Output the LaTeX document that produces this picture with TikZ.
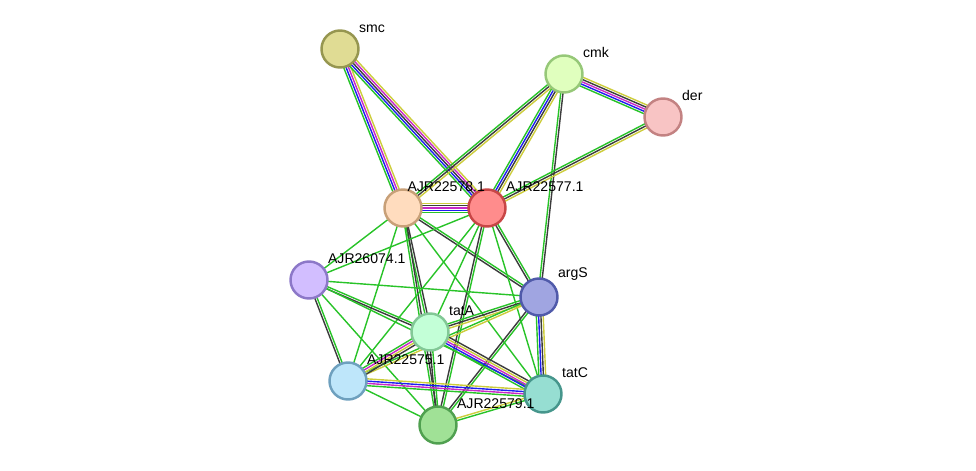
\documentclass[tikz,border=0pt]{standalone}
\usepackage{fontspec}
\setsansfont{Liberation Sans}
\usetikzlibrary{calc,backgrounds}
\definecolor{lgreen}{RGB}{40,195,40}
\definecolor{lblue}{RGB}{30,30,240}
\definecolor{lmag}{RGB}{200,40,200}
\definecolor{lyel}{RGB}{205,205,60}
\definecolor{lblk}{RGB}{60,60,60}
% one STRING link: node, node, number of lines, colours
\newcommand\strlink[4]{%
  \foreach \c [count=\i] in {#4} {%
    \pgfmathsetmacro\off{(\i-(#3+1)/2)*1.3}
    \draw[\c,line width=.8pt] ($(#1)!\off pt!90:(#2)$) -- ($(#2)!\off pt!-90:(#1)$);
  }}
\begin{document}
\begin{tikzpicture}
  [ prot/.style={circle,line width=1.4pt,minimum size=.74cm,inner sep=0pt},
    lbl/.style={font=\sffamily\footnotesize,inner sep=1pt,anchor=south west}
  ]
  \useasboundingbox (0,0) rectangle (19.52,-9.42);
  \definecolor{fsmc}{RGB}{224,220,148}\definecolor{dsmc}{RGB}{150,150,80}
  \definecolor{fcmk}{RGB}{224,255,190}\definecolor{dcmk}{RGB}{150,200,120}
  \definecolor{fder}{RGB}{248,196,196}\definecolor{dder}{RGB}{195,130,130}
  \definecolor{feight}{RGB}{255,220,190}\definecolor{deight}{RGB}{200,160,120}
  \definecolor{fseven}{RGB}{255,140,140}\definecolor{dseven}{RGB}{200,70,70}
  \definecolor{fsix}{RGB}{210,190,255}\definecolor{dsix}{RGB}{140,120,200}
  \definecolor{fargs}{RGB}{160,165,225}\definecolor{dargs}{RGB}{80,90,170}
  \definecolor{ftata}{RGB}{195,255,215}\definecolor{dtata}{RGB}{130,200,150}
  \definecolor{ffive}{RGB}{190,230,250}\definecolor{dfive}{RGB}{110,160,190}
  \definecolor{ftatc}{RGB}{150,222,210}\definecolor{dtatc}{RGB}{70,150,140}
  \definecolor{fnine}{RGB}{160,225,150}\definecolor{dnine}{RGB}{80,160,80}
  \node[prot,fill=fsmc,draw=dsmc] (smc) at (6.80,-0.98){};
  \node[prot,fill=fcmk,draw=dcmk] (cmk) at (11.28,-1.48){};
  \node[prot,fill=fder,draw=dder] (der) at (13.26,-2.34){};
  \node[prot,fill=feight,draw=deight] (p578) at (8.06,-4.16){};
  \node[prot,fill=fseven,draw=dseven] (p577) at (9.74,-4.16){};
  \node[prot,fill=fsix,draw=dsix] (p074) at (6.18,-5.60){};
  \node[prot,fill=fargs,draw=dargs] (args) at (10.78,-5.94){};
  \node[prot,fill=ftata,draw=dtata] (tata) at (8.60,-6.64){};
  \node[prot,fill=ffive,draw=dfive] (p575) at (6.96,-7.62){};
  \node[prot,fill=ftatc,draw=dtatc] (tatc) at (10.86,-7.88){};
  \node[prot,fill=fnine,draw=dnine] (p579) at (8.76,-8.50){};
  \node[lbl] at ($(smc)+(.34,.28)$){smc};
  \node[lbl] at ($(cmk)+(.34,.28)$){cmk};
  \node[lbl] at ($(der)+(.34,.28)$){der};
  \node[lbl,anchor=south east] at ($(p578)+(1.68,.28)$){AJR22578.1};
  \node[lbl] at ($(p577)+(.34,.28)$){AJR22577.1};
  \node[lbl] at ($(p074)+(.34,.28)$){AJR26074.1};
  \node[lbl] at ($(args)+(.34,.28)$){argS};
  \node[lbl] at ($(tata)+(.34,.28)$){tatA};
  \node[lbl] at ($(p575)+(.34,.28)$){AJR22575.1};
  \node[lbl] at ($(tatc)+(.34,.28)$){tatC};
  \node[lbl] at ($(p579)+(.34,.28)$){AJR22579.1};
  \begin{scope}[on background layer]
    \strlink{smc}{p578}{4}{lgreen,lblue,lmag,lyel}
    \strlink{smc}{p577}{5}{lgreen,lblue,lblk,lmag,lyel}
    \strlink{cmk}{der}{5}{lgreen,lblue,lmag,lblk,lyel}
    \strlink{cmk}{p577}{4}{lgreen,lblue,lblk,lyel}
    \strlink{cmk}{p578}{3}{lgreen,lblk,lyel}
    \strlink{cmk}{args}{2}{lgreen,lblk}
    \strlink{der}{p577}{3}{lgreen,lblk,lyel}
    \strlink{p578}{p577}{5}{lgreen,lblue,lmag,lblk,lyel}
    \strlink{p578}{args}{2}{lblk,lgreen}
    \strlink{p578}{tata}{2}{lgreen,lblk}
    \strlink{p578}{p579}{2}{lgreen,lblk}
    \strlink{p578}{p074}{1}{lgreen}
    \strlink{p578}{p575}{1}{lgreen}
    \strlink{p578}{tatc}{1}{lgreen}
    \strlink{p577}{args}{2}{lblk,lgreen}
    \strlink{p577}{tata}{1}{lgreen}
    \strlink{p577}{p579}{2}{lblk,lgreen}
    \strlink{p577}{tatc}{1}{lgreen}
    \strlink{p577}{p074}{1}{lgreen}
    \strlink{p577}{p575}{1}{lgreen}
    \strlink{p074}{args}{1}{lgreen}
    \strlink{p074}{tata}{2}{lblk,lgreen}
    \strlink{p074}{p575}{2}{lblk,lgreen}
    \strlink{p074}{tatc}{1}{lgreen}
    \strlink{p074}{p579}{1}{lgreen}
    \strlink{args}{tata}{3}{lgreen,lblk,lyel}
    \strlink{args}{tatc}{4}{lgreen,lblue,lblk,lyel}
    \strlink{args}{p575}{2}{lgreen,lyel}
    \strlink{args}{p579}{2}{lblk,lgreen}
    \strlink{tata}{tatc}{5}{lgreen,lblue,lmag,lyel,lblk}
    \strlink{tata}{p575}{4}{lgreen,lmag,lyel,lblk}
    \strlink{tata}{p579}{2}{lblk,lgreen}
    \strlink{p575}{tatc}{4}{lgreen,lmag,lblue,lyel}
    \strlink{p575}{p579}{1}{lgreen}
    \strlink{p579}{tatc}{2}{lgreen,lyel}
  \end{scope}
\end{tikzpicture}
\end{document}
